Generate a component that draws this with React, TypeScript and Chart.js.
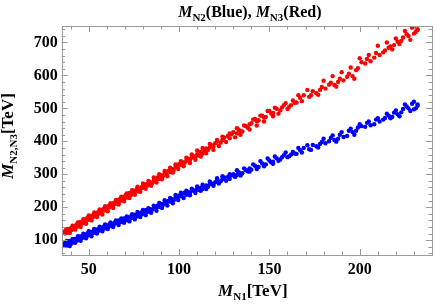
import React, { useEffect, useRef } from "react";
import { Chart, registerables } from "chart.js";
Chart.register(...registerables);

// M_N1 [TeV] vs M_N2 [TeV] (blue)
const blueN2: [number, number][] = [
  [36.5, 88], [36.8, 84], [37, 92], [37.3, 95], [37.5, 86], [38, 90], [38.3, 84], [38.5, 95], [39, 89], [39.3, 97], [39.5, 93],
  [40, 97], [40.3, 90], [40.5, 91], [41, 99], [41.3, 94], [41.5, 95], [42, 101], [42.3, 104], [42.5, 97], [43, 103], [43.5, 99],
  [44, 106], [44.3, 101], [44.5, 102], [45, 108], [45.3, 111], [45.5, 104], [46, 111], [46.5, 107], [47, 113], [47.3, 116],
  [47.5, 109], [48, 116], [48.5, 112], [49, 118], [49.3, 121], [49.5, 114], [50, 121], [50.5, 117], [51, 124], [51.5, 119],
  [52, 126], [52.5, 122], [53, 128], [53.5, 124], [54, 131], [54.5, 126], [55, 133], [55.5, 129], [56, 130], [56.5, 137],
  [57, 134], [57.5, 138], [58, 139], [58.5, 135], [59, 142], [59.5, 138], [60, 139], [60.5, 145], [61, 141], [61.5, 148],
  [62, 147], [62.5, 143], [63, 150], [63.5, 146], [64, 148], [64.5, 154], [65, 152], [65.5, 156], [66, 151], [66.5, 160],
  [67, 158], [67.5, 155], [68, 156], [68.5, 162], [69, 159], [69.5, 166], [70, 165], [70.5, 161], [71, 161], [71.5, 169],
  [72, 168], [72.5, 164], [73, 166], [73.5, 173], [74, 172], [74.5, 168], [75, 169], [75.5, 177], [76, 176], [76.5, 172],
  [77, 173], [77.5, 181], [78, 180], [78.5, 176], [79, 178], [79.5, 186], [80, 186], [80.5, 181], [81, 182], [81.5, 191],
  [82, 190], [82.5, 186], [83, 188], [84, 194], [84.5, 191], [85, 192], [86, 200], [86.5, 196], [87, 196], [88, 205],
  [88.5, 201], [89, 201], [90, 210], [90.5, 205], [91, 207], [92, 214], [93, 211], [94, 219], [95, 217], [96, 224],
  [97, 221], [98, 229], [99, 232], [100, 236], [101, 233], [102, 241], [103, 244], [104, 238], [105, 246], [106, 243],
  [107, 250], [108, 252], [109, 249], [110, 256], [111, 252], [112, 259], [113, 255], [114, 262], [115, 266], [116, 262],
  [117, 270], [118, 272], [119, 268], [120, 276], [121, 281], [123, 279], [124, 285], [125, 290], [127, 292], [128, 286],
  [129, 296], [130, 300], [132, 298], [133, 306], [134, 302], [135, 303], [137, 312], [138, 309], [139, 318], [140, 314],
  [142, 326], [143, 321], [144, 322], [146, 333], [147, 329], [148, 330], [150, 342], [151, 336], [152, 338], [154, 349],
  [156, 345], [157, 352], [158, 358], [161, 355], [163, 368], [164, 363], [165, 362], [167, 373], [169, 380], [172, 376],
  [174, 389], [176, 385], [177, 381], [179, 398], [181, 394], [184, 410], [186, 404], [187, 399], [189, 420], [191, 413],
  [194, 432], [196, 428], [197, 420], [199, 442], [201, 446], [204, 456], [206, 449], [209, 466], [211, 460], [214, 471],
  [216, 478], [218, 474], [219, 487], [221, 482], [222, 476], [224, 498], [226, 506], [228, 492], [229, 514], [230, 497],
  [231, 500], [232, 508],
  [38, 98], [39.5, 82], [41, 104], [42.5, 92], [44, 112], [45.5, 98], [47, 120], [48.5, 106], [50, 127], [51.5, 112],
  [53, 134], [54.5, 120], [56, 141], [57.5, 127], [59, 148], [60.5, 134], [62, 154], [63.5, 140], [65, 160], [66.5, 146],
  [68, 166], [69.5, 153], [71, 172], [72.5, 157], [74, 179], [75.5, 163], [77, 186], [78.5, 170], [80, 192], [81.5, 176],
  [83, 197], [84.5, 183], [86, 205], [87.5, 189], [89, 213], [90.5, 198], [92, 221], [93.5, 205], [95, 228], [96.5, 212],
  [98, 237], [99.5, 222], [101, 244], [102.5, 228], [104, 250], [106, 236], [107, 256], [109, 243], [110, 263], [112, 250],
  [113, 268], [115, 255], [117, 278], [119, 265], [121, 288], [122, 272], [124, 294], [126, 280], [128, 300], [131, 292],
  [132, 312], [134, 296], [136, 318], [139, 308], [141, 330], [143, 316], [145, 340], [147, 324], [149, 348], [152, 332],
  [153, 354], [155, 341], [159, 366], [160, 352], [162, 360], [166, 380], [168, 366], [171, 388], [173, 374], [178, 392],
  [180, 408], [183, 400], [185, 418], [188, 408], [190, 428], [193, 416], [195, 438], [198, 432], [200, 452], [203, 444],
  [205, 460], [208, 452], [210, 470], [213, 466], [215, 484], [217, 470], [220, 494], [223, 488], [225, 512], [227, 500],
  [230, 520], [232, 512],
];

// M_N1 [TeV] vs M_N3 [TeV] (red)
const redN3: [number, number][] = [
  [36.5, 124], [36.8, 120], [37, 128], [37.3, 131], [37.5, 122], [38, 130], [38.3, 124], [38.5, 126], [39, 133], [39.3, 127],
  [39.5, 129], [40, 136], [40.3, 131], [40.5, 132], [41, 139], [41.3, 134], [41.5, 135], [42, 142], [42.3, 137], [42.5, 138],
  [43, 145], [43.3, 148], [43.5, 141], [44, 148], [44.5, 144], [45, 152], [45.3, 155], [45.5, 148], [46, 155], [46.5, 151],
  [47, 158], [47.3, 161], [47.5, 154], [48, 162], [48.5, 158], [49, 165], [49.3, 168], [49.5, 161], [50, 169], [50.5, 165],
  [51, 172], [51.5, 168], [52, 175], [52.5, 171], [53, 179], [53.5, 175], [54, 181], [54.5, 177], [55, 185], [55.5, 181],
  [56, 183], [56.5, 190], [57, 187], [57.5, 192], [58, 194], [58.5, 190], [59, 197], [59.5, 193], [60, 201], [60.5, 197],
  [61, 204], [61.5, 200], [62, 207], [62.5, 203], [63, 210], [63.5, 206], [64, 214], [64.5, 210], [65, 216], [65.5, 221],
  [66, 218], [66.5, 214], [67, 224], [67.5, 220], [68, 227], [68.5, 222], [69, 231], [69.5, 226], [70, 233], [70.5, 237],
  [71, 229], [71.5, 236], [72, 239], [72.5, 243], [73, 242], [73.5, 238], [74, 245], [74.5, 250], [75, 241], [75.5, 248],
  [76, 250], [76.5, 255], [77, 252], [77.5, 248], [78, 249], [78.5, 257], [79, 258], [79.5, 262], [80, 264], [80.5, 259],
  [81, 261], [81.5, 268], [82, 270], [82.5, 266], [83, 268], [84, 276], [84.5, 272], [85, 273], [86, 283], [86.5, 279],
  [87, 280], [88, 290], [88.5, 286], [89, 287], [90, 297], [90.5, 292], [91, 294], [92, 304], [93, 300], [94, 310],
  [95, 307], [96, 316], [97, 313], [98, 322], [99, 326], [100, 331], [101, 328], [102, 337], [103, 334], [104, 341],
  [105, 347], [106, 343], [107, 350], [108, 355], [109, 351], [110, 361], [111, 357], [112, 368], [113, 363], [114, 371],
  [115, 378], [116, 374], [117, 381], [118, 388], [119, 384], [120, 394], [121, 400], [123, 396], [124, 404], [125, 411],
  [127, 416], [128, 409], [129, 421], [130, 428], [132, 424], [133, 435], [134, 431], [135, 430], [137, 446], [138, 441],
  [139, 452], [140, 455], [142, 468], [143, 461], [144, 464], [146, 478], [147, 472], [148, 474], [150, 492], [151, 484],
  [152, 486], [154, 499], [156, 494], [157, 503], [158, 510], [161, 505], [163, 524], [164, 517], [165, 518], [167, 532],
  [169, 540], [172, 535], [174, 552], [176, 546], [177, 541], [179, 565], [181, 560], [184, 578], [186, 571], [187, 566],
  [189, 590], [191, 585], [194, 605], [196, 598], [197, 590], [199, 622], [201, 640], [204, 650], [206, 643], [209, 668],
  [211, 662], [214, 676], [216, 684], [218, 679], [219, 692], [221, 702], [222, 695], [224, 715], [226, 725], [228, 708],
  [229, 745], [230, 727], [231, 732], [232, 740],
  [38, 134], [39.5, 122], [41, 144], [42.5, 132], [44, 154], [45.5, 140], [47, 164], [48.5, 150], [50, 175], [51.5, 160],
  [53, 184], [54.5, 170], [56, 193], [57.5, 178], [59, 203], [60.5, 188], [62, 212], [63.5, 198], [65, 222], [66.5, 208],
  [68, 232], [69.5, 218], [71, 242], [72.5, 228], [74, 252], [75.5, 238], [77, 262], [78.5, 247], [80, 272], [81.5, 256],
  [83, 280], [84.5, 265], [86, 290], [87.5, 275], [89, 300], [90.5, 285], [92, 310], [93.5, 294], [95, 320], [96.5, 305],
  [98, 330], [99.5, 316], [101, 340], [102.5, 324], [104, 350], [106, 334], [107, 360], [109, 344], [110, 372], [112, 354],
  [113, 380], [115, 364], [117, 392], [119, 374], [121, 404], [122, 386], [124, 414], [126, 398], [128, 424], [131, 412],
  [132, 440], [134, 420], [136, 448], [139, 436], [141, 466], [143, 448], [145, 478], [147, 460], [149, 492], [152, 476],
  [153, 502], [155, 484], [159, 516], [160, 498], [162, 510], [166, 540], [168, 522], [171, 556], [173, 540], [178, 556],
  [180, 584], [183, 572], [185, 598], [188, 580], [190, 610], [193, 596], [195, 624], [198, 616], [200, 652], [203, 636],
  [205, 662], [208, 654], [210, 690], [213, 670], [215, 700], [217, 688], [220, 712], [223, 705], [225, 735], [227, 720],
  [230, 748], [232, 738],
];

const xTicks = [50, 100, 150, 200];
const yTicks = [100, 200, 300, 400, 500, 600, 700];
const xMin = 35, xMax = 240;
const yMin = 55, yMax = 750;

const SERIF = "'Liberation Serif', 'Times New Roman', serif";

type Seg = { t: string; f: string; dy: number };

function drawSegs(ctx: CanvasRenderingContext2D, segs: Seg[], cx: number, by: number) {
  let w = 0;
  for (const s of segs) { ctx.font = s.f; w += ctx.measureText(s.t).width; }
  let x = cx - w / 2;
  ctx.textAlign = "left";
  ctx.textBaseline = "alphabetic";
  for (const s of segs) {
    ctx.font = s.f;
    ctx.fillText(s.t, x, by + s.dy);
    x += ctx.measureText(s.t).width;
  }
}

const M = `italic bold 16px ${SERIF}`;
const B = `bold 16px ${SERIF}`;
const S = `bold 11px ${SERIF}`;
const MX = `italic bold 17px ${SERIF}`;
const BX = `bold 17px ${SERIF}`;

const framePlugin = {
  id: "mmaFrame",
  afterDraw(chart: any) {
    const { ctx, chartArea: a, scales } = chart;
    const xs = scales.x, ys = scales.y;
    ctx.save();
    ctx.strokeStyle = "#9a9a9a";
    ctx.lineWidth = 1;
    ctx.strokeRect(Math.round(a.left) + 0.5, Math.round(a.top) + 0.5, Math.round(a.right - a.left), Math.round(a.bottom - a.top));
    ctx.beginPath();
    for (let v = 40; v <= 230; v += 10) {
      const px = Math.round(xs.getPixelForValue(v)) + 0.5;
      const len = v % 50 === 0 ? 6 : 3.5;
      ctx.moveTo(px, a.bottom); ctx.lineTo(px, a.bottom - len);
      ctx.moveTo(px, a.top); ctx.lineTo(px, a.top + len);
    }
    for (let v = 60; v <= 740; v += 20) {
      const py = Math.round(ys.getPixelForValue(v)) + 0.5;
      const len = v % 100 === 0 ? 6 : 3.5;
      ctx.moveTo(a.left, py); ctx.lineTo(a.left + len, py);
      ctx.moveTo(a.right, py); ctx.lineTo(a.right - len, py);
    }
    ctx.stroke();

    ctx.fillStyle = "#000";
    const cx = (a.left + a.right) / 2 + 3;
    drawSegs(ctx, [
      { t: "M", f: M, dy: 0 }, { t: "N2", f: S, dy: 4 }, { t: "(Blue), ", f: B, dy: 0 },
      { t: "M", f: M, dy: 0 }, { t: "N3", f: S, dy: 4 }, { t: "(Red)", f: B, dy: 0 },
    ], cx, 17);
    drawSegs(ctx, [
      { t: "M", f: MX, dy: 0 }, { t: "N1", f: S, dy: 4 }, { t: "[TeV]", f: BX, dy: 0 },
    ], cx + 3, 296);
    ctx.translate(13, 136);
    ctx.rotate(-Math.PI / 2);
    drawSegs(ctx, [
      { t: "M", f: MX, dy: 0 }, { t: "N2,N3", f: S, dy: 4 }, { t: "[TeV]", f: BX, dy: 0 },
    ], 0, 0);
    ctx.restore();
  },
};

export default function App() {
  const ref = useRef<HTMLCanvasElement>(null);
  useEffect(() => {
    if (!ref.current) return;
    const tickFont = { family: SERIF, size: 16, weight: "bold" as const };
    const chart = new Chart(ref.current, {
      type: "scatter",
      data: {
        datasets: [
          {
            label: "M_N2",
            data: blueN2.map(([x, y]) => ({ x, y })),
            backgroundColor: "#0000ff",
            borderWidth: 0,
            pointRadius: 2.2,
          },
          {
            label: "M_N3",
            data: redN3.map(([x, y]) => ({ x, y })),
            backgroundColor: "#ff0000",
            borderWidth: 0,
            pointRadius: 2.2,
          },
        ],
      },
      options: {
        animation: false,
        responsive: false,
        devicePixelRatio: 1,
        layout: { padding: { top: 26, right: 3, left: 0, bottom: 0 } },
        plugins: { legend: { display: false }, title: { display: false }, tooltip: { enabled: false } },
        scales: {
          x: {
            type: "linear",
            min: xMin,
            max: xMax,
            grid: { display: false, drawTicks: false },
            border: { display: false },
            ticks: { font: tickFont, color: "#000", padding: 5, maxRotation: 0, autoSkip: false },
            afterBuildTicks: (s: any) => { s.ticks = xTicks.map((value) => ({ value })); },
            afterFit: (s: any) => { s.height = 50; },
          },
          y: {
            type: "linear",
            min: yMin,
            max: yMax,
            grid: { display: false, drawTicks: false },
            border: { display: false },
            ticks: { font: tickFont, color: "#000", padding: 4, autoSkip: false },
            afterBuildTicks: (s: any) => { s.ticks = yTicks.map((value) => ({ value })); },
            afterFit: (s: any) => { s.width = 61.7; },
          },
        },
      },
      plugins: [framePlugin],
    });
    return () => chart.destroy();
  }, []);
  return (
    <div style={{ position: "fixed", left: 0, top: 0, width: 436, height: 305, background: "#fff" }}>
      <canvas ref={ref} width={436} height={305} />
    </div>
  );
}
